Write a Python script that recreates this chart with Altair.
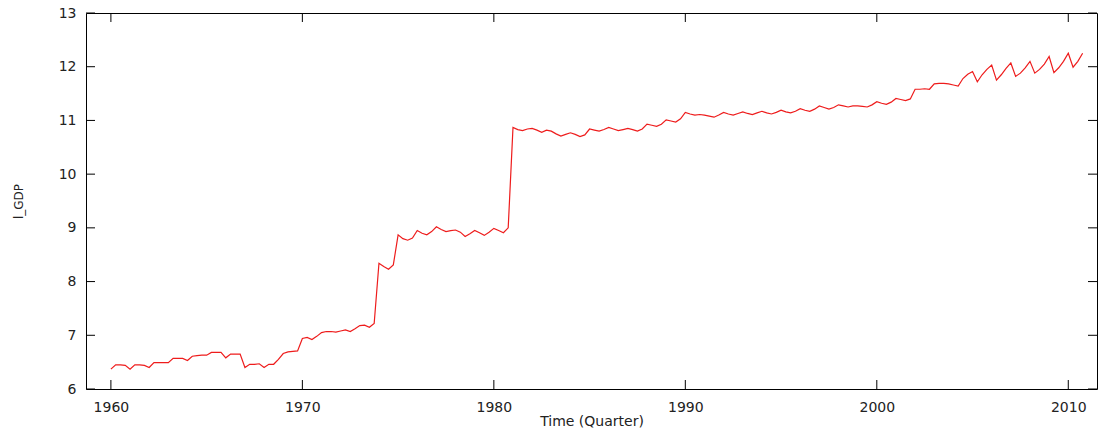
import altair as alt
import pandas as pd

# Quarterly l_GDP values (Q1..Q4 per year)
start_year = 1960
v_1960s = [
    6.37, 6.45, 6.45, 6.44,
    6.37, 6.45, 6.45, 6.44,
    6.40, 6.49, 6.49, 6.49,
    6.49, 6.57, 6.57, 6.57,
    6.53, 6.61, 6.62, 6.63,
    6.63, 6.68, 6.68, 6.68,
    6.58, 6.65, 6.65, 6.65,
    6.40, 6.46, 6.46, 6.47,
    6.40, 6.46, 6.46, 6.55,
    6.66, 6.69, 6.70, 6.71,
]
v_1970s = [
    6.94, 6.96, 6.92, 6.98,
    7.05, 7.07, 7.07, 7.06,
    7.08, 7.10, 7.07, 7.12,
    7.18, 7.19, 7.15, 7.22,
    8.34, 8.28, 8.23, 8.31,
    8.87, 8.80, 8.77, 8.81,
    8.95, 8.90, 8.87, 8.93,
    9.02, 8.97, 8.93, 8.95,
    8.96, 8.92, 8.84, 8.89,
    8.95, 8.91, 8.86, 8.92,
]
v_1980s = [
    8.99, 8.95, 8.91, 9.00,
    10.87, 10.83, 10.81, 10.84,
    10.85, 10.82, 10.78, 10.82,
    10.80, 10.75, 10.71, 10.74,
    10.77, 10.74, 10.70, 10.73,
    10.84, 10.82, 10.80, 10.83,
    10.87, 10.84, 10.81, 10.83,
    10.85, 10.83, 10.80, 10.84,
    10.93, 10.91, 10.89, 10.93,
    11.01, 10.99, 10.97, 11.03,
]
v_1990s = [
    11.15, 11.12, 11.10, 11.11,
    11.10, 11.08, 11.06, 11.10,
    11.15, 11.12, 11.10, 11.13,
    11.16, 11.13, 11.11, 11.14,
    11.17, 11.14, 11.12, 11.15,
    11.19, 11.16, 11.14, 11.17,
    11.22, 11.19, 11.17, 11.21,
    11.27, 11.24, 11.21, 11.24,
    11.29, 11.27, 11.25, 11.27,
    11.27, 11.26, 11.25, 11.29,
]
v_2000s = [
    11.35, 11.32, 11.30, 11.34,
    11.41, 11.39, 11.37, 11.40,
    11.58, 11.58, 11.59, 11.58,
    11.68, 11.69, 11.69, 11.68,
    11.66, 11.64, 11.78, 11.86,
    11.91, 11.72, 11.85, 11.95,
    12.03, 11.75, 11.85, 11.97,
    12.07, 11.82, 11.88, 11.98,
    12.10, 11.88, 11.95, 12.05,
    12.19, 11.89, 11.98, 12.10,
    12.25, 11.99, 12.10, 12.25,
]

x_ticks = [1960, 1970, 1980, 1990, 2000, 2010]
y_ticks = [6, 7, 8, 9, 10, 11, 12, 13]

values = v_1960s + v_1970s + v_1980s + v_1990s + v_2000s
df = pd.DataFrame({
    "t": [start_year + i / 4 for i in range(len(values))],
    "l_GDP": values,
})
xdf = pd.DataFrame({"t": x_ticks})
ydf = pd.DataFrame({"l_GDP": y_ticks})

W, H = 1011, 376
FONT = "DejaVu Sans"
TL = 9
TXT = "#222222"

xscale = alt.Scale(domain=[1958.7, 2011.5], nice=False, zero=False)
yscale = alt.Scale(domain=[6, 13], nice=False, zero=False)

x_axis = alt.Axis(values=x_ticks, format="d", title="Time (Quarter)",
                  grid=False, ticks=False, tickSize=0, domain=False,
                  labelPadding=11, labelFontSize=14, labelFont=FONT,
                  labelColor=TXT, titleFont=FONT, titleFontSize=14,
                  titleFontWeight="normal", titleColor=TXT,
                  titleBaseline="top", titleY=25)
y_axis = alt.Axis(values=y_ticks, title="l_GDP", grid=False, ticks=False,
                  tickSize=0, domain=False, labelPadding=10,
                  labelFontSize=14, labelFont=FONT, labelColor=TXT,
                  titleFont=FONT, titleFontSize=12, titleFontWeight="normal",
                  titleColor=TXT, titleX=-68, titleY=188,
                  titleAlign="center", titleBaseline="middle")

X = alt.X("t:Q", scale=xscale, axis=x_axis, title="Time (Quarter)")
Y = alt.Y("l_GDP:Q", scale=yscale, axis=y_axis, title="l_GDP")

line = alt.Chart(df).mark_line(color="#ee1c1c", strokeWidth=1.2).encode(x=X, y=Y)

tick_color = "#000000"
left_t = alt.Chart(ydf).mark_rule(color=tick_color).encode(
    y=Y, x=alt.value(0), x2=alt.value(TL))
right_t = alt.Chart(ydf).mark_rule(color=tick_color).encode(
    y=Y, x=alt.value(W - TL), x2=alt.value(W))
bottom_t = alt.Chart(xdf).mark_rule(color=tick_color).encode(
    x=X, y=alt.value(H), y2=alt.value(H - TL))
top_t = alt.Chart(xdf).mark_rule(color=tick_color).encode(
    x=X, y=alt.value(0), y2=alt.value(TL))

chart = alt.layer(line, left_t, right_t, bottom_t, top_t).properties(
    width=W, height=H,
    padding={"left": 86, "top": 13, "right": 3, "bottom": 42},
    autosize=alt.AutoSizeParams(type="none"),
    background="white",
).configure_view(stroke="#000000", strokeWidth=1)

chart.save("out.html", embed_options={"renderer": "svg", "actions": False})
